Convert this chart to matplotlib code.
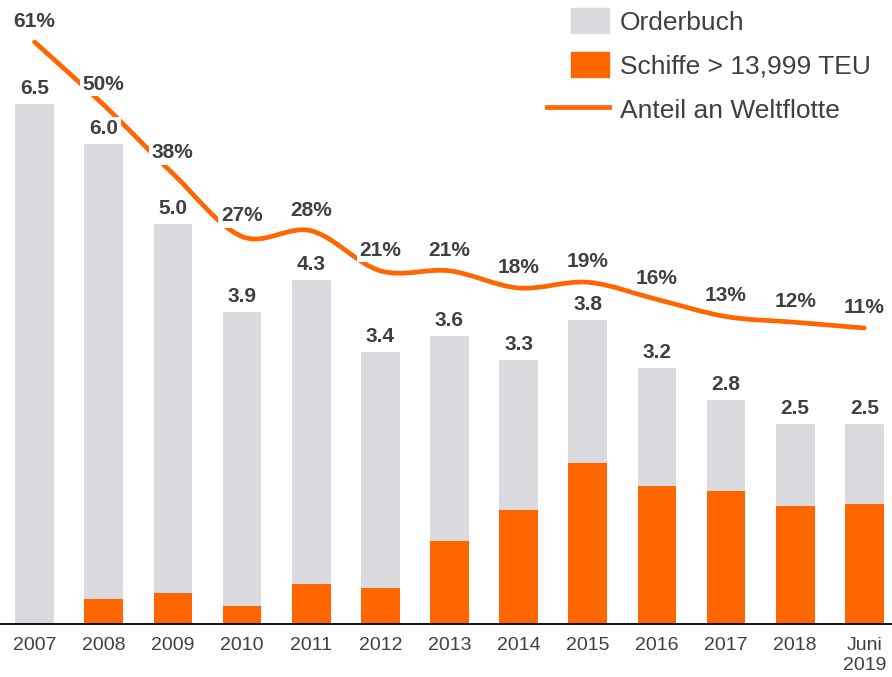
import numpy as np
import matplotlib
matplotlib.use('Agg')
import matplotlib.pyplot as plt
from matplotlib.path import Path
from matplotlib.patches import PathPatch, Patch
from matplotlib.lines import Line2D
from matplotlib.legend_handler import HandlerLine2D

plt.rcParams['font.family'] = ['Liberation Sans', 'DejaVu Sans']

# Daten
jahre = ['2007', '2008', '2009', '2010', '2011', '2012', '2013',
         '2014', '2015', '2016', '2017', '2018', 'Juni\n2019']
orderbuch = [6.5, 6.0, 5.0, 3.9, 4.3, 3.4, 3.6, 3.3, 3.8, 3.2, 2.8, 2.5, 2.5]
schiffe = [0.0, 0.31, 0.39, 0.22, 0.50, 0.45, 1.04, 1.43, 2.01, 1.73, 1.66, 1.48, 1.50]
anteil = [61, 50, 38, 27, 28, 21, 21, 18, 19, 16, 13, 12, 11]

GRAU = '#DADADF'
ORANGE = '#FF6600'
TEXT = '#404040'

fig = plt.figure(figsize=(8.92, 6.77), dpi=100)
ax = fig.add_axes([0, 53 / 677, 1, 624 / 677])
x = np.arange(len(jahre))

ax.bar(x, orderbuch, width=0.56, color=GRAU, zorder=1)
ax.bar(x, schiffe, width=0.56, color=ORANGE, zorder=2)
ax.set_xlim(-0.5, 12.4)
ax.set_ylim(0, 7.8)
ax.set_yticks([])
ax.set_xticks(x)
ax.set_xticklabels(jahre, fontsize=14, color=TEXT)
ax.tick_params(axis='x', length=0, pad=9.5)
for s in ['top', 'right', 'left']:
    ax.spines[s].set_visible(False)
ax.spines['bottom'].set_linewidth(1.3)

# Anteil an Weltflotte, geglaettete Linie (Excel-artige Bezier-Kurve)
ax2 = ax.twinx()
ax2.set_ylim(-40.75, 68.35)
ax2.axis('off')
pts = np.column_stack([x, anteil]).astype(float)
verts = [pts[0]]
codes = [Path.MOVETO]
n = len(pts)
for i in range(n - 1):
    p0 = pts[max(i - 1, 0)]
    p1 = pts[i]
    p2 = pts[i + 1]
    p3 = pts[min(i + 2, n - 1)]
    verts += [p1 + (p2 - p0) / 6, p2 - (p3 - p1) / 6, p2]
    codes += [Path.CURVE4] * 3
ax2.add_patch(PathPatch(Path(verts, codes), facecolor='none', edgecolor=ORANGE,
                        lw=3.4, capstyle='round', zorder=3))

box = dict(facecolor='white', edgecolor='none', pad=2)
for xi, v in zip(x, orderbuch):
    ax2.annotate(f'{v:.1f}', xy=(xi, v), xycoords=ax.transData,
                 xytext=(0, 7), textcoords='offset points', ha='center', va='baseline',
                 fontsize=15, fontweight='bold', color=TEXT, bbox=box, zorder=5)
for xi, p in zip(x, anteil):
    ax2.annotate(f'{p}%', xy=(xi, p), xytext=(0, 11), textcoords='offset points',
                 ha='center', va='baseline', fontsize=15, fontweight='bold',
                 color=TEXT, bbox=box, zorder=5)


class LangeLinie(HandlerLine2D):
    def create_artists(self, legend, orig_handle, xdescent, ydescent, width,
                       height, fontsize, trans):
        extra = 17
        return super().create_artists(legend, orig_handle, xdescent + extra, ydescent,
                                      width + extra, height, fontsize, trans)


linie = Line2D([], [], color=ORANGE, lw=3.4)
handles = [Patch(color=GRAU), Patch(color=ORANGE), linie]
labels = ['Orderbuch', 'Schiffe > 13,999 TEU', 'Anteil an Weltflotte']
leg = fig.legend(handles, labels, loc='upper left', bbox_to_anchor=(571 / 892, 1 - 8 / 677),
                 frameon=False, fontsize=19, borderpad=0, borderaxespad=0,
                 handlelength=1.44, handleheight=1.1, handletextpad=0.42,
                 labelspacing=0.66, handler_map={linie: LangeLinie()})
for t in leg.get_texts():
    t.set_color(TEXT)

fig.savefig('out.png', dpi=100)
